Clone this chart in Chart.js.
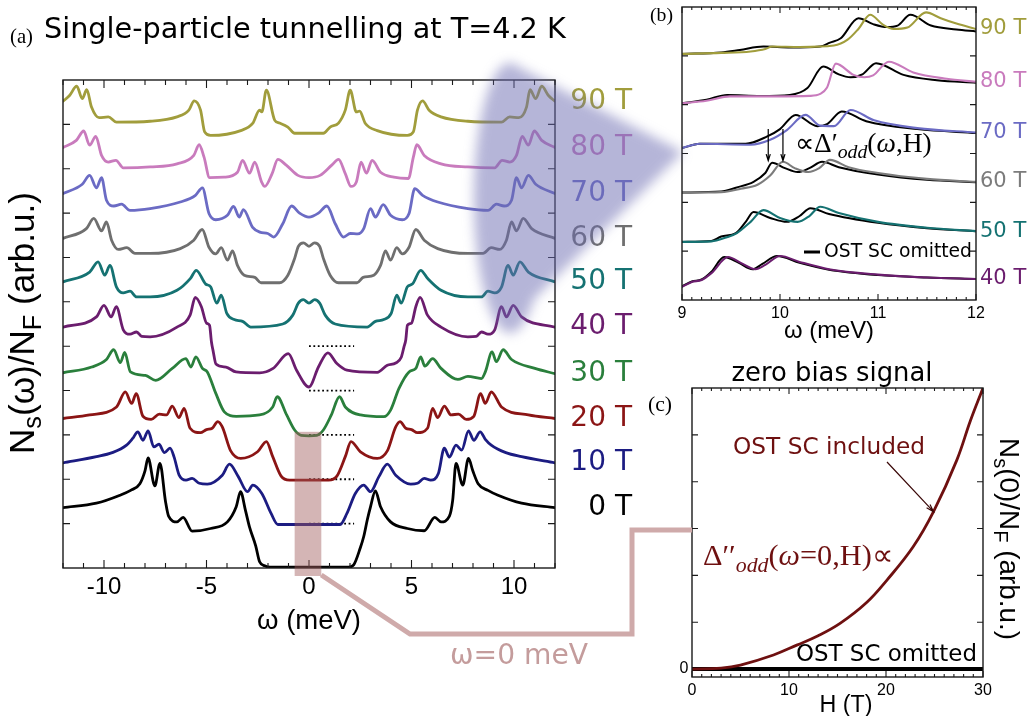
<!DOCTYPE html>
<html>
<head>
<meta charset="utf-8">
<script src="https://cdn.jsdelivr.net/npm/chart.js@4/dist/chart.umd.min.js"></script>
<style>
body { margin: 0; background: #fff; }
#wrap { position: relative; width: 1027px; height: 716px; overflow: hidden; }
canvas { position: absolute; left: 0; top: 0; }
</style>
</head>
<body>
<div id="wrap">
<canvas id="chartA" width="1027" height="716"></canvas>
<canvas id="chartB" width="1027" height="716"></canvas>
<canvas id="chartC" width="1027" height="716"></canvas>
<canvas id="decor" width="1027" height="716"></canvas>
</div>
<script>
const W = 1027, H = 716;

// (a) tunnelling spectra, [omega (meV), N_s/N_F + offset]
const fieldsA = ["0 T", "10 T", "20 T", "30 T", "40 T", "50 T", "60 T", "70 T", "80 T", "90 T"];
const coloursA = ["#000000", "#1c1c82", "#8b1515", "#2a7f3c", "#6b1d6e", "#157272", "#6f6f6f", "#6b6bc4", "#c97bbd", "#a19d3c"];

const spec0T = [[-12,1.36],[-10.37,1.46],[-9.22,1.64],[-8.7,1.75],[-8.25,1.9],[-8.0,2.19],[-7.85,2.48],[-7.52,1.85],[-7.27,2.36],[-7.0,1.5],[-6.85,1.17],[-6.44,1.04],[-6.14,1.14],[-5.7,0.83],[-4.8,0.89],[-3.98,1.04],[-3.55,1.38],[-3.34,1.72],[-3.1,1.3],[-2.9,0.92],[-2.6,0.5],[-2.41,0.14],[-2.16,0.05],[-1.9,0.02],
  [1.93,0.02],[2.18,0.07],[2.5,0.45],[2.67,0.71],[2.85,1.1],[3.0,1.38],[3.24,1.74],[3.49,1.38],[3.98,1.04],[4.8,0.89],[5.62,0.84],[6.14,1.14],[6.44,1.04],[6.85,1.17],[7.01,1.53],[7.17,2.36],[7.5,1.87],[7.78,2.47],[7.99,2.19],[8.25,1.9],[8.73,1.75],[9.22,1.64],[10.37,1.46],[12,1.36]];
const spec10T = [[-12,2.37],[-10.37,2.51],[-9.6,2.6],[-8.9,2.77],[-8.6,2.92],[-8.35,3.07],[-8.1,2.88],[-7.85,3.09],[-7.57,2.73],[-7.32,2.79],[-7.05,2.6],[-6.78,2.7],[-6.58,2.5],[-6.34,2.1],[-6.0,1.98],[-5.7,2.02],[-5.35,1.91],[-4.96,1.89],[-4.23,2.09],[-3.88,2.34],[-3.45,2.06],[-3.0,1.72],[-2.74,1.87],[-2.3,1.68],[-1.85,1.23],[-1.52,0.98],
  [1.52,0.98],[1.85,1.23],[2.26,1.68],[2.67,1.87],[3.0,1.72],[3.41,2.06],[3.82,2.34],[4.23,2.09],[4.96,1.89],[5.29,1.91],[5.62,2.02],[5.94,1.98],[6.31,2.13],[6.6,2.7],[6.85,2.5],[7.17,2.77],[7.45,2.66],[7.78,3.09],[8.04,2.88],[8.35,3.07],[8.6,2.9],[8.89,2.77],[9.6,2.6],[10.37,2.51],[12,2.37]];
const spec20T = [[-12,3.37],[-10.7,3.45],[-9.39,3.63],[-8.96,3.97],[-8.65,3.71],[-8.43,3.93],[-8.1,3.42],[-7.7,3.35],[-7.3,3.47],[-6.95,3.45],[-6.67,3.65],[-6.35,3.39],[-6.09,3.6],[-5.8,3.15],[-5.3,3.05],[-5.0,3.12],[-4.72,3.15],[-4.45,3.3],[-4.23,3.18],[-3.82,2.64],[-3.33,2.47],[-2.51,2.62],[-2.08,2.85],[-1.77,2.51],[-1.36,2.07],[-0.95,1.98],
  [0.95,1.98],[1.36,2.07],[1.77,2.51],[2.05,2.85],[2.51,2.62],[3.33,2.47],[3.82,2.64],[4.23,3.18],[4.44,3.3],[4.72,3.15],[5.0,3.12],[5.29,3.05],[5.78,3.15],[6.03,3.6],[6.28,3.39],[6.6,3.65],[6.93,3.45],[7.29,3.47],[7.67,3.35],[8.04,3.42],[8.37,3.93],[8.6,3.71],[8.89,3.97],[9.39,3.63],[10.7,3.45],[12,3.37]];
const spec30T = [[-12,4.4],[-10.6,4.53],[-9.88,4.7],[-9.53,4.92],[-9.2,4.63],[-8.99,4.86],[-8.71,4.42],[-7.98,4.34],[-7.48,4.23],[-6.67,4.5],[-6.01,4.72],[-5.76,4.53],[-5.52,4.76],[-5.2,4.5],[-4.96,4.42],[-4.54,3.93],[-4.13,3.52],[-3.55,3.42],[-2.41,3.45],[-1.77,3.63],[-1.55,3.86],[-1.09,3.45],[-0.7,3.11],[-0.38,2.99],
  [0,2.98],[0.38,2.99],[0.7,3.11],[1.09,3.45],[1.49,3.86],[1.77,3.63],[2.51,3.45],[3.65,3.41],[3.98,3.56],[4.39,4.05],[4.88,4.42],[5.21,4.5],[5.45,4.76],[5.65,4.55],[6.03,4.72],[6.44,4.5],[7.26,4.25],[7.75,4.32],[8.41,4.27],[8.6,4.42],[8.93,4.87],[9.14,4.65],[9.47,4.92],[9.88,4.7],[11.02,4.5],[12,4.38]];
const spec40T = [[-12,5.43],[-10.37,5.66],[-10.0,5.92],[-9.65,5.66],[-9.4,5.89],[-9.06,5.37],[-8.73,5.27],[-8.41,5.32],[-8.16,5.22],[-7.75,5.21],[-6.44,5.43],[-5.8,5.7],[-5.55,6.1],[-5.25,5.89],[-5.0,5.52],[-4.85,5.47],[-4.76,5.1],[-4.68,4.9],[-4.54,4.6],[-4.05,4.53],[-3.56,4.42],[-2.41,4.4],[-1.75,4.5],[-1.01,4.83],[-0.6,4.45],
  [0,4.08],[0.46,4.53],[0.92,4.85],[1.36,4.61],[1.85,4.46],[3.33,4.41],[3.82,4.57],[4.23,4.62],[4.5,4.75],[4.63,4.98],[4.72,5.14],[4.8,5.47],[5.0,5.52],[5.21,5.89],[5.42,6.1],[5.78,5.7],[6.44,5.43],[7.75,5.21],[8.16,5.22],[8.41,5.32],[8.73,5.27],[9.06,5.37],[9.39,5.89],[9.63,5.66],[9.96,5.92],[10.37,5.66],[12,5.43]];
const spec50T = [[-12,6.45],[-10.7,6.67],[-10.29,6.9],[-9.96,6.6],[-9.71,6.82],[-9.39,6.33],[-9.06,6.2],[-8.73,6.24],[-8.41,6.11],[-7.75,6.11],[-6.44,6.26],[-5.78,6.53],[-5.5,6.71],[-5.04,6.4],[-4.8,6.34],[-4.5,5.97],[-4.28,6.15],[-4.01,5.74],[-3.65,5.6],[-3.24,5.56],[-2.84,5.43],[-1.28,5.5],[-0.79,5.7],[-0.52,5.97],[-0.28,6.05],
  [0,5.97],[0.28,6.05],[0.52,5.97],[0.79,5.7],[1.28,5.5],[2.84,5.43],[3.24,5.56],[3.65,5.6],[4.01,5.74],[4.28,6.15],[4.5,5.97],[4.8,6.34],[5.04,6.4],[5.45,6.71],[5.78,6.53],[6.44,6.26],[7.75,6.11],[8.41,6.11],[8.73,6.24],[9.06,6.2],[9.39,6.33],[9.71,6.82],[9.96,6.6],[10.29,6.9],[10.7,6.67],[12,6.45]];
const spec60T = [[-12,7.43],[-10.86,7.65],[-10.5,7.88],[-10.12,7.6],[-9.88,7.8],[-9.63,7.39],[-9.3,7.18],[-8.89,7.22],[-8.49,7.09],[-7.75,7.09],[-6.28,7.2],[-5.62,7.39],[-5.21,7.63],[-4.88,7.23],[-4.55,7.08],[-4.28,7.22],[-3.98,6.94],[-3.73,7.15],[-3.49,6.82],[-3.16,6.6],[-2.64,6.55],[-2.34,6.43],[-1.44,6.43],[-1.03,6.6],[-0.7,6.98],[-0.52,7.25],[-0.27,7.33],
  [0,7.25],[0.27,7.33],[0.52,7.25],[0.7,6.98],[1.03,6.6],[1.44,6.43],[2.34,6.43],[2.64,6.55],[3.16,6.6],[3.49,6.82],[3.73,7.15],[3.98,6.94],[4.28,7.22],[4.55,7.08],[4.88,7.23],[5.21,7.63],[5.62,7.39],[6.28,7.2],[7.75,7.09],[8.49,7.09],[8.89,7.22],[9.3,7.18],[9.63,7.39],[9.88,7.8],[10.12,7.6],[10.45,7.88],[10.86,7.65],[12,7.43]];
const spec70T = [[-12,8.44],[-11.06,8.65],[-10.7,8.85],[-10.37,8.57],[-10.12,8.8],[-9.88,8.29],[-9.52,8.16],[-9.14,8.2],[-8.73,8.06],[-7.75,8.1],[-6.28,8.25],[-5.54,8.4],[-5.2,8.57],[-4.88,7.99],[-4.55,7.85],[-3.98,7.95],[-3.68,8.15],[-3.4,7.91],[-3.2,8.08],[-2.75,7.68],[-2.4,7.57],[-2.01,7.54],[-1.72,7.46],[-1.28,7.76],[-0.85,8.16],[-0.46,8.0],
  [0,7.91],[0.46,8.0],[0.87,8.16],[1.28,7.76],[1.69,7.46],[2.01,7.54],[2.38,7.53],[2.67,7.65],[3.0,8.1],[3.24,7.91],[3.62,8.19],[3.98,7.95],[4.55,7.85],[4.88,7.99],[5.16,8.55],[5.54,8.4],[6.28,8.25],[7.75,8.1],[8.73,8.06],[9.14,8.2],[9.52,8.16],[9.88,8.29],[10.12,8.8],[10.37,8.57],[10.7,8.85],[11.06,8.65],[12,8.44]];
const spec80T = [[-12,9.48],[-11.35,9.64],[-10.99,9.85],[-10.7,9.53],[-10.4,9.73],[-10.12,9.3],[-9.79,9.15],[-9.42,9.19],[-9.06,9.02],[-7.75,9.04],[-6.44,9.11],[-5.62,9.3],[-5.36,9.54],[-5.12,9.26],[-4.85,8.8],[-4.14,8.81],[-3.49,8.92],[-3.24,9.19],[-2.9,8.9],[-2.65,9.15],[-2.31,8.7],[-2.16,8.6],[-1.8,8.89],[-1.52,9.21],[-1.11,9.08],[-0.54,8.85],
  [0,8.8],[0.54,8.85],[1.11,9.08],[1.44,9.21],[1.77,8.89],[2.05,8.6],[2.31,8.7],[2.54,9.15],[2.8,8.9],[3.08,9.19],[3.49,8.92],[4.14,8.81],[4.85,8.78],[5.09,9.26],[5.26,9.54],[5.62,9.3],[6.44,9.11],[7.75,9.04],[9.06,9.02],[9.42,9.19],[9.79,9.15],[10.12,9.3],[10.4,9.73],[10.7,9.53],[10.99,9.85],[11.35,9.64],[12,9.48]];
const spec90T = [[-12,10.52],[-11.68,10.65],[-11.33,10.86],[-11.06,10.58],[-10.84,10.78],[-10.61,10.39],[-10.24,10.15],[-9.79,10.17],[-9.39,10.05],[-7.75,10.07],[-6.44,10.17],[-5.86,10.32],[-5.6,10.53],[-5.29,10.32],[-5.09,9.83],[-4.8,9.75],[-3.33,9.86],[-2.75,10.02],[-2.41,10.32],[-2.3,10.28],[-2.08,10.77],[-1.67,10.09],[-1.44,10.03],[-1.03,9.94],[-0.7,9.8],
  [0,9.8],[0.7,9.8],[1.03,9.94],[1.44,10.03],[1.77,10.32],[2.01,10.77],[2.31,10.28],[2.47,10.3],[2.75,10.02],[3.33,9.86],[4.8,9.75],[5.09,9.83],[5.29,10.32],[5.54,10.53],[5.86,10.32],[6.44,10.17],[7.75,10.07],[9.39,10.05],[9.79,10.17],[10.24,10.15],[10.61,10.39],[10.78,10.78],[11.06,10.58],[11.35,10.86],[11.68,10.65],[12,10.52]];
const specA = [spec0T, spec10T, spec20T, spec30T, spec40T, spec50T, spec60T, spec70T, spec80T, spec90T];
const zeroLevels = [1, 2, 3, 4, 5];
const zeroSpan = [0, 2.2];
const tickLabelsA = [-10, -5, 0, 5, 10];

// (b) zoom 9..12 meV, coloured = with OST SC, black = omitted
const fieldsB = ["40 T", "50 T", "60 T", "70 T", "80 T", "90 T"];
const coloursB = ["#6b1d6e", "#157272", "#7c7c7c", "#6b6bc4", "#c97bbd", "#a19d3c"];
const zoom40T = [[9,0.27],[9.1,0.37],[9.2,0.41],[9.3,0.55],[9.47,0.88],[9.6,0.76],[9.75,0.63],[9.85,0.72],[10.0,0.9],[10.2,0.78],[10.5,0.63],[11,0.52],[11.5,0.46],[12,0.43]];
const zoom40Tomit = [[9,0.28],[9.1,0.38],[9.2,0.42],[9.3,0.58],[9.43,0.88],[9.58,0.76],[9.72,0.63],[9.82,0.74],[9.97,0.9],[10.2,0.76],[10.5,0.62],[11,0.51],[11.5,0.46],[12,0.43]];
const zoom50T = [[9,1.19],[9.3,1.2],[9.45,1.28],[9.56,1.37],[9.7,1.6],[9.83,1.84],[10.0,1.68],[10.18,1.6],[10.3,1.72],[10.41,1.91],[10.6,1.78],[11,1.6],[11.5,1.48],[12,1.41]];
const zoom50Tomit = [[9,1.19],[9.3,1.21],[9.4,1.3],[9.55,1.37],[9.65,1.6],[9.73,1.8],[9.9,1.68],[10.07,1.6],[10.2,1.72],[10.31,1.88],[10.5,1.76],[11,1.58],[11.5,1.47],[12,1.41]];
const zoom60T = [[9,2.2],[9.4,2.21],[9.6,2.28],[9.77,2.36],[9.9,2.55],[10.03,2.83],[10.15,2.7],[10.29,2.62],[10.4,2.7],[10.51,2.87],[10.7,2.72],[11,2.6],[11.5,2.48],[12,2.42]];
const zoom60Tomit = [[9,2.2],[9.4,2.22],[9.55,2.3],[9.73,2.42],[9.85,2.6],[9.92,2.81],[10.05,2.7],[10.18,2.62],[10.3,2.7],[10.43,2.83],[10.6,2.72],[11,2.57],[11.5,2.46],[12,2.41]];
const zoom70T = [[9,3.11],[9.18,3.2],[9.7,3.18],[9.9,3.28],[10.07,3.48],[10.26,3.79],[10.41,3.57],[10.55,3.56],[10.72,3.89],[10.96,3.68],[11.4,3.52],[12,3.43]];
const zoom70Tomit = [[9,3.11],[9.18,3.2],[9.65,3.2],[9.87,3.35],[10.0,3.5],[10.16,3.79],[10.38,3.56],[10.48,3.6],[10.63,3.86],[10.88,3.66],[11.4,3.5],[12,3.42]];
const zoom80T = [[9,4.03],[9.25,4.08],[9.49,4.17],[9.96,4.17],[10.3,4.18],[10.41,4.22],[10.48,4.35],[10.57,4.84],[10.75,4.61],[10.86,4.56],[10.95,4.6],[11.11,4.88],[11.36,4.66],[11.7,4.53],[12,4.47]];
const zoom80Tomit = [[9,4.03],[9.25,4.1],[9.46,4.2],[9.8,4.18],[10.1,4.2],[10.28,4.34],[10.44,4.78],[10.6,4.62],[10.72,4.56],[10.84,4.62],[10.98,4.85],[11.26,4.61],[11.6,4.5],[12,4.45]];
const zoom90T = [[9,5.04],[9.4,5.06],[9.7,5.09],[9.85,5.14],[9.92,5.19],[10.2,5.18],[10.55,5.21],[10.69,5.33],[10.8,5.55],[10.92,5.84],[11.05,5.64],[11.16,5.55],[11.3,5.58],[11.49,5.89],[11.64,5.77],[11.8,5.66],[12,5.55]];
const zoom90Tomit = [[9,5.04],[9.4,5.07],[9.59,5.12],[9.83,5.19],[10.11,5.17],[10.41,5.19],[10.51,5.27],[10.62,5.36],[10.8,5.77],[10.95,5.65],[11.09,5.59],[11.2,5.62],[11.33,5.84],[11.54,5.62],[11.8,5.54],[12,5.5]];
const zoomB = [zoom40T, zoom50T, zoom60T, zoom70T, zoom80T, zoom90T];
const zoomBomit = [zoom40Tomit, zoom50Tomit, zoom60Tomit, zoom70Tomit, zoom80Tomit, zoom90Tomit];
const arrowOmegaB = [9.88, 10.03];
const tickLabelsB = [9, 10, 11, 12];

// (c) zero bias signal vs field
const fieldC = [0, 3, 5, 8.4, 10.8, 13, 15.3, 18, 20.1, 22.8, 24.9, 27.3, 28.7, 30];
const zeroBiasIncl = [0, 0.02, 0.085, 0.3, 0.51, 0.71, 0.98, 1.42, 1.9, 2.61, 3.36, 4.46, 5.3, 6.0];
const fieldOmitC = [0, 30];
const zeroBiasOmit = [0, 0];
const tickLabelsC = [0, 10, 20, 30];

function pts(arr) { return arr.map(p => ({ x: p[0], y: p[1] })); }

function baseOptions(area, xr, yr) {
  return {
    responsive: false, animation: false, devicePixelRatio: 1,
    layout: { autoPadding: false, padding: { left: area[0], top: area[1], right: W - area[2], bottom: H - area[3] } },
    scales: {
      x: { type: 'linear', min: xr[0], max: xr[1], display: false },
      y: { type: 'linear', min: yr[0], max: yr[1], display: false }
    },
    plugins: { legend: { display: false }, tooltip: { enabled: false } },
    elements: { point: { radius: 0 }, line: { cubicInterpolationMode: 'monotone', borderCapStyle: 'round', borderJoinStyle: 'round' } }
  };
}

// text helpers
function fnt(s, size, fam) {
  const sz = (s.sub || s.sup) ? size * 0.72 : size;
  return (s.it ? 'italic ' : '') + sz.toFixed(2) + 'px ' + (s.fam || fam);
}
function textWidth(ctx, segs, size, fam) {
  let w = 0;
  for (const s of segs) { ctx.font = fnt(s, size, fam); w += ctx.measureText(s.t).width; }
  return w;
}
function put(ctx, t, o) {
  const segs = typeof t === 'string' ? [{ t: t }] : t;
  const fam = o.fam || '"DejaVu Sans"';
  let size = o.size || 20;
  if (o.w) size = size * o.w / textWidth(ctx, segs, size, fam);
  const w = textWidth(ctx, segs, size, fam);
  ctx.save();
  ctx.translate(o.x, o.y);
  if (o.rot) ctx.rotate(o.rot);
  let cx = o.align === 'center' ? -w / 2 : o.align === 'right' ? -w : 0;
  ctx.fillStyle = o.color || '#000';
  ctx.textBaseline = 'middle';
  ctx.textAlign = 'left';
  for (const s of segs) {
    ctx.font = fnt(s, size, fam);
    ctx.fillText(s.t, cx, s.sub ? size * 0.3 : s.sup ? -size * 0.3 : 0);
    cx += ctx.measureText(s.t).width;
  }
  ctx.restore();
}
function arrow(ctx, x1, y1, x2, y2, head, colour) {
  const a = Math.atan2(y2 - y1, x2 - x1);
  ctx.save();
  ctx.strokeStyle = colour; ctx.lineWidth = 1.2;
  ctx.beginPath();
  ctx.moveTo(x1, y1); ctx.lineTo(x2, y2);
  ctx.moveTo(x2 - head * Math.cos(a - 0.3), y2 - head * Math.sin(a - 0.3));
  ctx.lineTo(x2, y2);
  ctx.lineTo(x2 - head * Math.cos(a + 0.3), y2 - head * Math.sin(a + 0.3));
  ctx.stroke();
  ctx.restore();
}

// box with inward ticks
function frame(chart, xt, yt) {
  const { ctx, chartArea: a, scales: { x, y } } = chart;
  ctx.save();
  ctx.strokeStyle = '#1a1a1a';
  ctx.lineWidth = 1.1;
  ctx.beginPath();
  xt.vals.forEach(v => {
    const px = x.getPixelForValue(v);
    const len = xt.isMajor(v) ? xt.maj : xt.min;
    ctx.moveTo(px, a.bottom); ctx.lineTo(px, a.bottom - len);
    ctx.moveTo(px, a.top); ctx.lineTo(px, a.top + len);
  });
  yt.vals.forEach(v => {
    const py = y.getPixelForValue(v);
    ctx.moveTo(a.left, py); ctx.lineTo(a.left + yt.len, py);
    ctx.moveTo(a.right, py); ctx.lineTo(a.right - yt.len, py);
  });
  ctx.stroke();
  ctx.lineWidth = 1.4;
  ctx.strokeRect(a.left, a.top, a.right - a.left, a.bottom - a.top);
  ctx.restore();
}

// ---------- panel (a)
const dsA = specA.map((s, i) => ({
  data: pts(s), borderColor: coloursA[i], borderWidth: 2.8, fill: false
}));
zeroLevels.forEach(l => dsA.push({
  data: [{ x: zeroSpan[0], y: l }, { x: zeroSpan[1], y: l }],
  borderColor: '#000', borderWidth: 1.8, borderDash: [1.8, 2.6], borderCapStyle: 'butt', fill: false
}));

const panelA = {
  id: 'panelA',
  afterDraw(chart) {
    const { ctx, scales: { x, y } } = chart;
    const xv = []; for (let v = -12; v <= 12; v++) xv.push(v);
    const yv = []; for (let v = 1; v <= 10; v++) yv.push(v);
    frame(chart, { vals: xv, isMajor: v => v % 5 === 0, maj: 8, min: 5 }, { vals: yv, len: 7 });
    tickLabelsA.forEach(v => put(ctx, String(v), { x: x.getPixelForValue(v), y: 587, size: 24, fam: '"Liberation Sans"', align: 'center' }));
    put(ctx, 'ω (meV)', { x: 309, y: 621, w: 104, fam: '"Liberation Sans"', align: 'center' });
    put(ctx, [{ t: 'N' }, { t: 's', sub: 1 }, { t: '(ω)/N' }, { t: 'F', sub: 1 }, { t: ' (arb.u.)' }],
      { x: 24, y: 323, w: 262, rot: -Math.PI / 2, align: 'center', fam: '"Liberation Sans"' });
    fieldsA.forEach((f, i) => {
      const s = specA[i];
      put(ctx, f, { x: 632, y: y.getPixelForValue(s[s.length - 1][1]), size: 28, align: 'right', color: coloursA[i] });
    });
    put(ctx, '(a)', { x: 10, y: 38, w: 23, fam: '"Liberation Serif"' });
    put(ctx, 'Single-particle tunnelling at T=4.2 K', { x: 44, y: 31, w: 522 });
  }
};
const chartA = new Chart(document.getElementById('chartA'), {
  type: 'line',
  data: { datasets: dsA },
  options: baseOptions([63, 80, 555, 568], [-12, 12], [0, 11]),
  plugins: [panelA]
});

// ---------- panel (b)
const dsB = [];
zoomB.forEach((s, i) => dsB.push({ data: pts(s), borderColor: coloursB[i], borderWidth: 2.1, fill: false }));
zoomBomit.forEach(s => dsB.push({ data: pts(s), borderColor: '#000', borderWidth: 2.0, fill: false }));

const panelB = {
  id: 'panelB',
  afterDraw(chart) {
    const { ctx, scales: { x, y } } = chart;
    const xv = []; for (let i = 0; i <= 30; i++) xv.push(9 + i / 10);
    frame(chart, { vals: xv, isMajor: v => Math.abs(v - Math.round(v)) < 1e-6, maj: 6, min: 3 }, { vals: [1, 2, 3, 4, 5], len: 6 });
    tickLabelsB.forEach(v => put(ctx, String(v), { x: x.getPixelForValue(v), y: 314, size: 16, fam: '"Liberation Sans"', align: 'center' }));
    put(ctx, 'ω (meV)', { x: 829, y: 331, w: 90, fam: '"Liberation Sans"', align: 'center' });
    fieldsB.forEach((f, i) => {
      const s = zoomB[i];
      put(ctx, f, { x: 980, y: y.getPixelForValue(s[s.length - 1][1]), size: 21, color: coloursB[i] });
    });
    put(ctx, '(b)', { x: 650, y: 16, w: 23, fam: '"Liberation Serif"' });
    // legend
    ctx.save(); ctx.strokeStyle = '#000'; ctx.lineWidth = 3;
    ctx.beginPath(); ctx.moveTo(804, 252); ctx.lineTo(820, 252); ctx.stroke(); ctx.restore();
    put(ctx, 'OST SC omitted', { x: 824, y: 252, w: 148 });
    // annotation
    put(ctx, [{ t: '∝Δ′' }, { t: 'odd', sub: 1, it: 1 }, { t: '(' }, { t: 'ω', it: 1 }, { t: ',H)' }],
      { x: 795, y: 145, w: 137, fam: '"Liberation Serif"' });
    arrowOmegaB.forEach(w => arrow(ctx, x.getPixelForValue(w), y.getPixelForValue(3.5), x.getPixelForValue(w), y.getPixelForValue(2.85), 7, '#000'));
  }
};
const chartB = new Chart(document.getElementById('chartB'), {
  type: 'line',
  data: { datasets: dsB },
  options: baseOptions([682, 7, 976, 300], [9, 12], [0, 6]),
  plugins: [panelB]
});

// ---------- panel (c)
const dsC = [
  { data: pts(fieldC.map((h, i) => [h, zeroBiasIncl[i]])), borderColor: '#6e1010', borderWidth: 2.8, fill: false, cubicInterpolationMode: 'default', tension: 0.4 },
  { data: pts(fieldOmitC.map((h, i) => [h, zeroBiasOmit[i]])), borderColor: '#000', borderWidth: 4, fill: false }
];
const panelC = {
  id: 'panelC',
  afterDraw(chart) {
    const { ctx, scales: { x, y } } = chart;
    const xv = []; for (let v = 0; v <= 30; v++) xv.push(v);
    frame(chart, { vals: xv, isMajor: v => v % 10 === 0, maj: 6, min: 3 }, { vals: [1, 2, 3, 4, 5], len: 6 });
    tickLabelsC.forEach(v => put(ctx, String(v), { x: x.getPixelForValue(v), y: 691, size: 16, fam: '"Liberation Sans"', align: 'center' }));
    put(ctx, '0', { x: 684, y: y.getPixelForValue(0), size: 16, fam: '"Liberation Sans"', align: 'center' });
    put(ctx, 'H (T)', { x: 846, y: 706, w: 53, fam: '"Liberation Sans"', align: 'center' });
    put(ctx, 'zero bias signal', { x: 832, y: 374, w: 201, align: 'center' });
    put(ctx, '(c)', { x: 648, y: 405, w: 24, fam: '"Liberation Serif"' });
    put(ctx, [{ t: 'N' }, { t: 's', sub: 1 }, { t: '(0)/N' }, { t: 'F', sub: 1 }, { t: ' (arb.u.)' }],
      { x: 1008, y: 539, w: 202, rot: Math.PI / 2, align: 'center', fam: '"Liberation Sans"' });
    put(ctx, 'OST SC included', { x: 733, y: 448, w: 192, color: '#6e1010' });
    arrow(ctx, 887, 462, x.getPixelForValue(24.9), y.getPixelForValue(3.36), 8, '#3a0808');
    put(ctx, [{ t: 'Δ′′' }, { t: 'odd', sub: 1, it: 1 }, { t: '(' }, { t: 'ω', it: 1 }, { t: '=0,H)∝' }],
      { x: 703, y: 557, w: 190, fam: '"Liberation Serif"', color: '#6e1010' });
    put(ctx, 'OST SC omitted', { x: 796, y: 655, w: 181 });
  }
};
const chartC = new Chart(document.getElementById('chartC'), {
  type: 'line',
  data: { datasets: dsC },
  options: baseOptions([692, 388, 983, 677], [0, 30], [-0.17, 6]),
  plugins: [panelC]
});

// ---------- overlay: zoom cone and omega=0 marker
const dc = document.getElementById('decor').getContext('2d');
dc.save();
dc.filter = 'blur(6px)';
dc.fillStyle = 'rgba(108,108,178,0.5)';
dc.beginPath();
dc.ellipse(510, 198, 36, 135, 0, 0, 2 * Math.PI);
dc.moveTo(512, 64); dc.lineTo(683, 152); dc.lineTo(533, 300); dc.closePath();
dc.fill('nonzero');
dc.restore();

const ax = chartA.scales.x, ay = chartA.scales.y;
const barL = ax.getPixelForValue(-0.7), barR = ax.getPixelForValue(0.6);
const barT = ay.getPixelForValue(3.07), barB = ay.getPixelForValue(-0.18);
dc.fillStyle = 'rgba(160,90,90,0.45)';
dc.fillRect(barL, barT, barR - barL, barB - barT);

dc.strokeStyle = '#cfaaaa';
dc.lineWidth = 5;
dc.lineJoin = 'miter';
dc.beginPath();
dc.moveTo(barR, barB - 1);
dc.lineTo(410, 634); dc.lineTo(632, 634); dc.lineTo(632, 530);
dc.lineTo(chartC.chartArea.left, 530);
dc.stroke();
put(dc, 'ω=0 meV', { x: 450, y: 657, w: 138, color: '#c49c9c' });
</script>
</body>
</html>
